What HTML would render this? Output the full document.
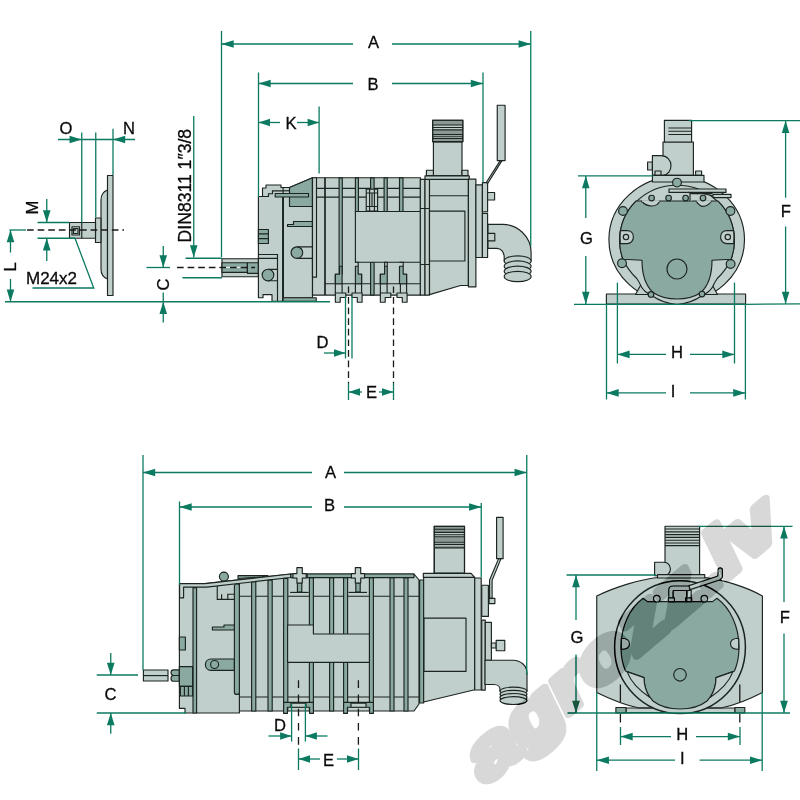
<!DOCTYPE html>
<html lang="en">
<head>
<meta charset="utf-8">
<title>Vacuum pump dimensions</title>
<style>
html,body{margin:0;padding:0;background:#fff;}
body{width:800px;height:800px;overflow:hidden;}
svg{display:block;}
.g{fill:none;stroke:#0b7a60;stroke-width:1.3;}
.a{fill:#0b7a60;stroke:none;}
.d{fill:none;stroke:#1a1a1a;stroke-width:1.3;stroke-dasharray:6.7 3.9;}
.d2{fill:none;stroke:#1a1a1a;stroke-width:1.3;stroke-dasharray:7.6 6.6;}
.dd{fill:none;stroke:#1a1a1a;stroke-width:1.3;}
.o{fill:none;stroke:#1c2421;stroke-width:1.15;}
.l{fill:#c0cfcb;stroke:#1c2421;stroke-width:1.15;stroke-linejoin:round;}
.k{fill:#89a9a1;stroke:#1c2421;stroke-width:1.15;stroke-linejoin:round;}
.m{fill:#a3bab2;stroke:#1c2421;stroke-width:1.15;stroke-linejoin:round;}
.w{fill:none;stroke:#e8efec;stroke-width:1.3;}
.th{fill:#8b9894;stroke:none;}
.wl{fill:none;stroke:#c0cfcb;stroke-width:1.15;}
.kf{fill:#89a9a1;stroke:none;}
.lf{fill:#c0cfcb;stroke:none;}
.t text{font-family:"Liberation Sans",sans-serif;font-size:17.3px;fill:#0a0a0a;stroke:#0a0a0a;stroke-width:0.3;}
.wmg{opacity:.15;}
.wm{font-family:"Liberation Sans",sans-serif;font-weight:bold;font-style:italic;font-size:68px;fill:#000;stroke:#000;stroke-width:8;stroke-linejoin:round;}
@supports (mix-blend-mode:difference){.wmg{opacity:1;mix-blend-mode:difference;}.wm{fill:#272727;stroke:#272727;}}
</style>
</head>
<body>
<svg width="800" height="800" viewBox="0 0 800 800">
<rect x="0" y="0" width="800" height="800" fill="#ffffff"/>
<g id="flange">
<path class="l" d="M107.5 190C103.5 191.5 101 195 101 200V269C101 274 103.5 277.5 107.5 279Z"/>
<rect class="l" x="107.5" y="175.5" width="5.5" height="120"/>
<rect class="l" x="95.5" y="218" width="5.4" height="24.5"/>
<rect class="l" x="69.5" y="222.5" width="26" height="15.75"/>
<path class="o" d="M81.75 222.5L81.75 238.25"/>
<rect class="l" x="72" y="226.75" width="7.5" height="8.25"/>
<rect class="l" x="73.5" y="228.5" width="4.5" height="5"/>
</g>
<g id="side1">
<rect class="l" x="222" y="258.7" width="36.4" height="18.05"/>
<rect class="k" x="222" y="262.75" width="25.4" height="9.65"/>
<rect class="k" x="247.4" y="262.75" width="11" height="10.55"/>
<path class="w" d="M226 267.3H233M236 267.3H245"/>
<path class="l" d="M258.4 196.5H262.5V188H266V185H281V187.5H289.5V196.5H283.1V301.25H272V294.6H263V297.75H258.4Z"/>
<path class="o" d="M258.4 196.5H268.5V193.7H272.5V190.8H289.5"/>
<rect class="k" x="258.4" y="229.5" width="10" height="14"/>
<path class="o" d="M258.4 233.9H268.4M258.4 238.6H268.4"/>
<path class="o" d="M258.4 254.5H277.5V301.25M258.4 258.4H277.5"/>
<path class="o" d="M268 269.3H277.5M268 280.7H277.5"/>
<circle class="k" cx="268" cy="275" r="5.8"/>
<path class="l" d="M283.1 196.5V187.5H289.5L312.5 177.7V297.75H283.1Z"/>
<path class="o" style="stroke-width:1.8" d="M283.1 196.5V301.25"/>
<path class="k" d="M289.5 187.5L312.5 177.7V206.5H289.5Z"/>
<path class="o" d="M283.1 190.8H289.5"/>
<rect class="k" x="283.1" y="297.75" width="33.1" height="3.5"/>
<rect class="k" x="275.2" y="193.5" width="33.3" height="3.5"/>
<path class="k" d="M287.5 226.5V224.5H293.5V221.5H312.5V226.5Z"/>
<path class="o" d="M296.9 246.8H312.5M296.9 258.4H312.5"/>
<circle class="k" cx="296.9" cy="252.6" r="5.8"/>
<rect class="l" x="312.5" y="177.7" width="108" height="117.4"/>
<rect class="l" x="312.5" y="177.7" width="4" height="99.4"/>
<path class="o" style="stroke-width:1.7" d="M325 177.7V295.1"/>
<path class="o" d="M316.5 188.4H420.5M316.5 197.1H420.5M325 283.75H420.5"/>
<rect class="k" x="339.1" y="177.9" width="3.2" height="96.1"/>
<rect class="k" x="355.4" y="177.9" width="3" height="33.6"/>
<rect class="k" x="384.1" y="177.9" width="3.15" height="33.6"/>
<rect class="k" x="399.5" y="177.9" width="3.5" height="33.6"/>
<rect class="k" x="370.6" y="177.9" width="3.5" height="11.35"/>
<rect class="k" x="370.6" y="262.2" width="3.5" height="32.9"/>
<rect class="l" x="366.25" y="189.25" width="11.35" height="21.85"/>
<path class="o" d="M369.6 189.25V211.1M374.4 189.25V211.1M372 193V206.5M366.25 193H377.6M366.25 206.5H377.6"/>
<rect class="l" x="355.4" y="211.5" width="65.1" height="50.7"/>
<path class="k" d="M339.6 266.25H342.1V283.75H335.35V274.1H339.6Z"/>
<path class="k" d="M355.4 266.25H358.2V274.1H361.6V283.75H355.4Z"/>
<path class="k" d="M384.6 266.25H387.25V283.75H380.35V274.1H384.6Z"/>
<path class="k" d="M399.5 266.25H403.2V274.1H406.6V283.75H399.5Z"/>
<path class="o" d="M355.4 262.2H358.2V266.25M384.6 266.25V262.2H387.25V266.25M399.5 262.2H403.2V266.25"/>
<path class="l" d="M335.35 293H345.8V297.5H340.2V302.25H335.35Z"/><path class="o" d="M335.35 274.1V293M342.1 283.75V293"/>
<path class="l" d="M362.1 293H352V297.5H357.3V302.25H362.1Z"/><path class="o" d="M361.6 274.1V293M355.4 283.75V293"/>
<path class="l" d="M380.35 293H390.8V297.5H385.2V302.25H380.35Z"/><path class="o" d="M380.35 274.1V293M387.1 283.75V293"/>
<path class="l" d="M407.1 293H397V297.5H402.3V302.25H407.1Z"/><path class="o" d="M406.6 274.1V293M400.4 283.75V293"/>
<rect class="l" x="420.3" y="179.4" width="4.7" height="115.7"/>
<rect class="l" x="425" y="179.4" width="4.5" height="115.7"/>
<path class="o" d="M420.3 208.5H429.5M420.3 264.5H429.5"/>
<rect class="l" x="433.4" y="141.6" width="28.6" height="34"/>
<rect class="l" x="432.7" y="120.3" width="30.1" height="21.3"/>
<rect class="th" x="432.7" y="120.3" width="30.1" height="4.7"/>
<rect class="th" x="432.7" y="130.2" width="30.1" height="4.2"/>
<rect class="th" x="432.7" y="138.6" width="30.1" height="2.8"/>
<path class="o" d="M432.7 125H462.8M432.7 127.5H462.8M432.7 129.9H462.8M432.7 134.6H462.8M432.7 136.7H462.8M432.7 138.5H462.8M432.7 141.6H462.8"/>
<rect class="o" x="432.7" y="120.3" width="30.1" height="21.3"/>
<rect class="l" x="426.4" y="170.25" width="7" height="5.35"/>
<rect class="l" x="462" y="170.25" width="6" height="5.35"/>
<path class="l" d="M429.5 179.4H468.4V285.5H460.5L429.5 294.6Z"/>
<rect class="l" x="425" y="175.9" width="44.25" height="3.5"/>
<path class="o" d="M429.5 195.7H468.4"/>
<rect class="l" x="429.5" y="211.1" width="35.4" height="49.9"/>
<rect class="l" x="468.4" y="179.1" width="7.5" height="107.8"/>
<rect class="l" x="475.9" y="184.9" width="6.5" height="72.6"/>
<rect class="l" x="482.4" y="182.6" width="5.2" height="29.1"/>
<rect class="l" x="482.4" y="213.4" width="5.2" height="44.1"/>
<rect class="l" x="487.6" y="192.5" width="7" height="7.5"/>
<path class="l" d="M500.2 160.6L486.4 182.3L487.8 183.2L502 160.6Z"/>
<rect class="l" x="497.25" y="105.2" width="7.85" height="55.4"/>
<path class="l" d="M488 224.4H503C517 224.4 531.1 236 531.1 252.5V261H504.2V257C504.2 252 501 248.3 496.9 248.3H488Z"/>
<rect class="l" x="487.8" y="233.4" width="7" height="7.5"/>
<ellipse class="l" cx="517.65" cy="261" rx="13.45" ry="5.2"/>
<ellipse class="l" cx="517.65" cy="266.15" rx="13.45" ry="5.2"/>
<ellipse class="l" cx="517.65" cy="271.3" rx="13.45" ry="5.2"/>
<ellipse class="l" cx="517.65" cy="276.5" rx="13.45" ry="5.2"/>
</g>
<g id="front1">
<rect class="l" x="663" y="142" width="30.4" height="33.4"/>
<rect class="l" x="664.4" y="120.4" width="27.2" height="21.6"/>
<path class="o" d="M668.4 128H691.6M668.4 131.2H691.6M668.4 134.5H691.6"/>
<rect class="l" x="647.6" y="162" width="4.8" height="8"/>
<path class="l" d="M652.4 155.6H661C667 155.6 671 160.5 671 165.5C671 170.5 668 175 663 175.4H652.4Z"/>
<rect class="l" x="655" y="171" width="6" height="4.4"/>
<rect class="l" x="695.6" y="171" width="6" height="4.4"/>
<ellipse class="l" cx="676.7" cy="239.6" rx="67.8" ry="63"/>
<rect class="l" x="606.4" y="294" width="139.2" height="10"/>
<path class="l" d="M635.5 294.5L640.5 285.5H648V294.5Z"/>
<path class="l" d="M717.5 294.5L712.5 285.5H705V294.5Z"/>
<path class="l" d="M619.6 241C619.6 210 645.3 185.2 677 185.2C708.7 185.2 734.4 210 734.4 241C734.4 248 733 254 731 259.5C727 268 722 274 717.25 278.5C715 281.5 714 284 712.5 287C710 291.5 707 293 703.25 295C698 298.5 688 304.2 677 304.2C666 304.2 656 298.5 650.75 295C647 293 644 291.5 641.5 287C640 284 639 281.5 636.75 278.5C632 274 627 268 623 259.5C621 254 619.6 248 619.6 241Z"/>
<rect class="l" x="652.4" y="175.4" width="51.6" height="6.6"/>
<path class="k" d="M636 201H718C728 211 734.4 225 734.4 241C734.4 248 733 254 731 259.3L712 260.3C712 275 708 286 701 292.4C694 297 685 299 677 299C669 299 660 297 653 292.4C646 286 642 275 642 260.3L623 259.3C621 254 619.6 248 619.6 241C619.6 225 626 211 636 201Z"/>
<path class="l" d="M641.25 201C644 204 646.5 206 651.6 206C656.5 206 658 204 660 201"/>
<path class="l" d="M696 201C698 204 699.5 206.3 703 206.3C707.5 206.3 709.5 204 711.75 201"/>
<path class="lc" style="stroke:#c0cfcb;stroke-width:1.6;fill:none" d="M641.9 201H659.4M696.6 201H711.1"/>
<path class="l" d="M690 201V193.6H712.5"/>
<rect class="l" x="669" y="189" width="57" height="3.4"/>
<rect class="l" x="713" y="194.4" width="18" height="3.2"/>
<path class="o" d="M688 192.4L698 193.8M704 193.8L713 196"/>
<circle class="k" cx="677" cy="182.6" r="4.4"/>
<circle class="k" cx="623" cy="211" r="4.4"/>
<circle class="k" cx="730.4" cy="211" r="4.4"/>
<circle class="k" cx="622" cy="263.2" r="4.4"/>
<circle class="k" cx="730.6" cy="264" r="4.4"/>
<circle class="k" cx="651.6" cy="198" r="2.8"/>
<circle class="k" cx="668.6" cy="198" r="2.8"/>
<circle class="k" cx="685.6" cy="198" r="2.8"/>
<circle class="k" cx="703" cy="198" r="2.8"/>
<circle class="k" cx="651" cy="294.4" r="2.8"/>
<circle class="k" cx="702" cy="294" r="2.8"/>
<path class="l" d="M620.3 230.6H627C631 230.6 633.4 233.5 633.4 237C633.4 240.5 631 243.6 627 243.6H620.3C619.9 239 619.9 235 620.3 230.6Z"/>
<path class="l" d="M733.7 230.6H727C723 230.6 720.6 233.5 720.6 237C720.6 240.5 723 243.6 727 243.6H733.7C734.1 239 734.1 235 733.7 230.6Z"/>
<circle class="l" cx="626" cy="237" r="2.7"/>
<circle class="l" cx="727.8" cy="237" r="2.7"/>
<circle class="k" cx="677" cy="269" r="10"/>
</g>
<g id="side2">
<rect class="l" x="143.4" y="670" width="24.6" height="11"/>
<path class="o" d="M143.4 675.6H168"/>
<path class="k" d="M179.4 669.8H173.6C171.8 669.8 171 671 171 672.6C171 674.3 171.8 675.5 173.6 675.5H179.4Z"/>
<path class="k" d="M179.4 675.5H173.6C171.8 675.5 171 676.7 171 678.4C171 680 171.8 681.2 173.6 681.2H179.4Z"/>
<path class="l" d="M239 579.8L290.75 574H414L419 580V704L414 711H239Z"/>
<path class="l" d="M179.4 583.6H205L239.4 579.8V713H185V708.4H179.4Z"/>
<circle class="k" cx="223.9" cy="576.6" r="4.5"/>
<path class="k" d="M238 578.5V575.6H268L262 577Z"/>
<path class="l" d="M179.6 583.6H205L290.75 574V577.5L206.75 587.1H183.6V597.8H179.6Z"/>
<rect class="k" x="193" y="587.6" width="3.6" height="125.4"/>
<rect class="k" x="179.4" y="637" width="6" height="13"/>
<rect class="k" x="179.4" y="666.6" width="13.2" height="19.8"/>
<rect class="k" x="180.4" y="686.4" width="12.2" height="9.6"/>
<path class="o" d="M184.4 686.4V696M188.4 686.4V696"/>
<path class="o" d="M217.25 586V599.4H234.4M221.6 599.4V594.2M227.8 599.4V594.2H234.4"/>
<path class="k" d="M212.4 630H234.4V625H224V627H212.4Z"/>
<path class="k" d="M234.4 659H211C207.6 659 205.4 661.6 205.4 664.7C205.4 667.8 207.6 670.4 211 670.4H234.4Z"/>
<circle class="k" cx="214.6" cy="664.5" r="4"/>
<path class="k" d="M234.4 586C234.4 584.8 235.4 584 236.9 584C238.4 584 239.4 584.8 239.4 586V692.4C239.4 693.6 238.4 694.4 236.9 694.4C235.4 694.4 234.4 693.6 234.4 692.4Z"/>
<path class="o" d="M239.4 596.2H419M239.4 697H419"/>
<rect class="k" x="251.6" y="582.03" width="4.2" height="128.97"/>
<rect class="k" x="268" y="580.16" width="4.2" height="130.84"/>
<rect class="k" x="283.6" y="578.38" width="4.2" height="132.62"/>
<rect class="k" x="309.4" y="577.6" width="4" height="133.4"/>
<rect class="k" x="329.6" y="577.6" width="4" height="133.4"/>
<rect class="k" x="343.6" y="577.6" width="4" height="133.4"/>
<rect class="k" x="369.4" y="577.6" width="4" height="133.4"/>
<rect class="k" x="390" y="577.6" width="4" height="133.4"/>
<rect class="k" x="404" y="577.6" width="4" height="133.4"/>
<rect class="k" x="307" y="574" width="107" height="3.6"/>
<path class="k" d="M290.75 574H307V577.6H290.75Z"/>
<path class="l" d="M287.6 625H313.4V634H369.4V662.4H287.6Z"/>
<rect class="k" x="297.4" y="583" width="4.4" height="9"/>
<path class="o" d="M290.1 592.4H308.6"/>
<path class="l" d="M296.9 567.6H302.3 V573.6H306.2 V578H302.3 V583H296.9 V578H293 V573.6H296.9Z"/>
<rect class="k" x="355.8" y="583" width="4.4" height="9"/>
<path class="o" d="M348.5 592.4H367"/>
<path class="l" d="M355.3 567.6H360.7 V573.6H364.6 V578H360.7 V583H355.3 V578H351.4 V573.6H355.3Z"/>
<path class="k" d="M283.6 702.4H313.4V713.4H309.6V707.2H287.4V713.4H283.6Z"/>
<rect class="l" x="291" y="703.2" width="15" height="4"/>
<path class="k" d="M343.6 702.4H373.4V713.4H369.6V707.2H347.4V713.4H343.6Z"/>
<rect class="l" x="351" y="703.2" width="15" height="4"/>
<rect class="k" x="419.6" y="580" width="4.05" height="123"/>
<rect class="l" x="434.25" y="526.4" width="30.25" height="46.9"/>
<rect class="th" x="434.25" y="526.4" width="30.25" height="5.6"/>
<rect class="th" x="434.25" y="537" width="30.25" height="4.8"/>
<rect class="th" x="434.25" y="545.6" width="30.25" height="2.2"/>
<path class="o" d="M434.25 529.2H464.5M434.25 532.3H464.5M434.25 534.7H464.5M434.25 536.75H464.5M434.25 542.2H464.5M434.25 544.3H464.5M434.25 547.8H464.5"/>
<rect class="o" x="434.25" y="526.4" width="30.25" height="46.9"/>
<path class="l" d="M423.65 577.4H474.75V689.75L423.65 702Z"/>
<path class="l" d="M423.3 573.3H471.1L474.6 577.3H423.3Z"/>
<rect class="l" x="424" y="618.15" width="42" height="53.25"/>
<rect class="l" x="474.75" y="578" width="6.45" height="112"/>
<rect class="l" x="481.75" y="585.25" width="6.65" height="31.15"/>
<rect class="l" x="481.75" y="620.1" width="3.5" height="70"/>
<rect class="l" x="485.25" y="622.4" width="6.15" height="38"/>
<rect class="l" x="491.4" y="643" width="4.8" height="5"/>
<rect class="l" x="496.2" y="640.3" width="8.6" height="10.4"/>
<path class="l" d="M498.6 558.65L489.6 580V598.4H492.1V580.4L501 558.65Z"/>
<rect class="l" x="496.6" y="517.35" width="6.5" height="41.3"/>
<rect class="l" x="489.1" y="598.4" width="5.8" height="5.2"/>
<path class="l" d="M485 660.2H513C521 660.2 527 666 527 673V691H500V689.5C500 686.5 497.5 684.5 494 684.5H485Z"/>
<ellipse class="l" cx="513.5" cy="691" rx="13.5" ry="3.9"/>
<ellipse class="l" cx="513.5" cy="694.2" rx="13.5" ry="3.9"/>
<ellipse class="l" cx="513.5" cy="697.4" rx="13.5" ry="3.9"/>
<ellipse class="l" cx="513.5" cy="700.6" rx="13.5" ry="3.9"/>
</g>
<g id="front2">
<rect class="l" x="626" y="708" width="109" height="4.6"/>
<rect class="k" x="615.9" y="707.5" width="10.1" height="5.3"/>
<rect class="k" x="735" y="707.5" width="9.8" height="5.3"/>
<rect class="l" x="665" y="526.25" width="34.6" height="48.35"/>
<path class="o" d="M665 529H699.6M665 531.8H699.6M665 534.6H699.6M665 537.4H699.6M665 540.2H699.6M665 543H699.6M665 545.6H699.6"/>
<path class="l" d="M596.75 596 C615 587 640 579.5 657.5 577.5 H704.75 C722 579.5 747 587 762.4 596 V692.5 C748 700 735 705 722 707.8 H638 C625 705 612 700 596.75 692.5Z"/>
<path class="l" d="M654.6 562.25H664C668 562.25 670.4 565.5 670.4 569C670.4 572.5 668 575.75 664 575.75H654.6Z"/>
<rect class="l" x="657.5" y="574.6" width="47.25" height="3.4"/>
<ellipse cx="680" cy="647.2" rx="65.4" ry="66.4" style="fill:#c0cfcb;stroke:#1c2421;stroke-width:1.5"/>
<path class="k" d="M643 598.3 L647.4 601.6 H712.6 L717 598.3 C730 608 739 626 739 647 C739 656 737.5 664 734.5 671 L716 677.6 C716 686 713 695 707 701 C700 706.5 690 709 680 709 C670 709 660 706.5 653 701 C647 695 644 686 644 677.6 L625.5 671 C622.5 664 621 656 621 647 C621 626 630 608 643 598.3Z"/>
<path class="l" d="M627 671.6L644 677.6C644 685 646 692 650 697.5C640 691 631 682 627 671.6Z"/>
<path class="l" d="M733 671.6L716 677.6C716 685 714 692 710 697.5C720 691 729 682 733 671.6Z"/>
<path class="l" d="M621.3 638.2C626.5 638.2 629.5 640.5 629.5 643.8C629.5 647 626.5 649.4 621.3 649.4Z"/>
<path class="l" d="M738.7 638.2C733.5 638.2 730.5 640.5 730.5 643.8C730.5 647 733.5 649.4 738.7 649.4Z"/>
<circle class="l" cx="656.8" cy="598.7" r="3.3"/>
<circle class="l" cx="704.3" cy="598.7" r="3.3"/>
<path class="l" d="M668.75 601.6V590C668.75 587.5 670.5 586 673 586H689.5V590.5H674.6C673.6 590.5 673.2 591 673.2 592V601.6Z"/>
<rect class="l" x="673.2" y="590.5" width="13.6" height="11.1"/>
<rect class="l" x="668.3" y="597.8" width="6.1" height="3.8"/>
<rect class="l" x="685.6" y="597.8" width="6.1" height="3.8"/>
<path class="o" d="M686.8 601.6V590.5H691.2V601.6"/>
<path class="l" d="M689 585.6L716.5 576.5C717.5 576.2 718 575.5 718 574.5V570C718 568.5 719 567.8 720.2 567.8C721.4 567.8 722.4 568.5 722.4 570V576C722.4 578 721.4 579.3 719.5 580L690.2 589.6Z"/>
<circle class="k" cx="680" cy="674.75" r="6.3"/>
</g>
<g id="dims">
<path class="g" d="M221.5 31L221.5 257"/>
<path class="g" d="M530.75 31L530.75 246"/>
<path class="g" d="M221.5 44L353 44"/>
<path class="g" d="M392 44L530.75 44"/>
<path class="a" d="M221.5 44L233.7 40.2L233.7 47.8Z"/>
<path class="a" d="M530.75 44L518.55 40.2L518.55 47.8Z"/>
<path class="g" d="M258.5 72.5L258.5 197"/>
<path class="g" d="M483 72.5L483 182.5"/>
<path class="g" d="M258.5 83.5L353 83.5"/>
<path class="g" d="M392 83.5L483 83.5"/>
<path class="a" d="M258.5 83.5L270.7 79.7L270.7 87.3Z"/>
<path class="a" d="M483 83.5L470.8 79.7L470.8 87.3Z"/>
<path class="g" d="M319.1 106.5L319.1 173.5"/>
<path class="g" d="M258.5 122.5L280 122.5"/>
<path class="g" d="M297 122.5L319.1 122.5"/>
<path class="a" d="M258.5 122.5L270 118.7L270 126.3Z"/>
<path class="a" d="M319.1 122.5L307.6 118.7L307.6 126.3Z"/>
<path class="g" d="M193.75 116L193.75 257.5"/>
<path class="a" d="M193.75 257.5L189.95 245.3L197.55 245.3Z"/>
<path class="g" d="M185.5 258.25L222 258.25"/>
<path class="g" d="M182.5 277.75L222 277.75"/>
<path class="g" d="M146.5 267.5L170 267.5"/>
<path class="g" d="M163.25 246L163.25 267.5"/>
<path class="a" d="M163.25 267.5L159.45 255.3L167.05 255.3Z"/>
<path class="g" d="M163.25 292.5L163.25 322.5"/>
<path class="a" d="M163.25 301.75L159.45 313.95L167.05 313.95Z"/>
<path class="g" d="M5 301.75L330 301.75"/>
<path class="g" d="M9.5 230L26 230"/>
<path class="g" d="M10.5 230L10.5 252.5"/>
<path class="a" d="M10.5 230L6.7 242.2L14.3 242.2Z"/>
<path class="g" d="M10.5 279L10.5 301.75"/>
<path class="a" d="M10.5 301.75L6.7 289.55L14.3 289.55Z"/>
<path class="g" d="M37.5 222.5L69.5 222.5"/>
<path class="g" d="M37.5 238.25L75 238.25"/>
<path class="g" d="M46.75 199L46.75 222.5"/>
<path class="a" d="M46.75 222.5L42.95 210.3L50.55 210.3Z"/>
<path class="g" d="M46.75 238.25L46.75 261"/>
<path class="a" d="M46.75 238.25L42.95 250.45L50.55 250.45Z"/>
<path class="g" d="M32.5 288H93.75L75 238.25"/>
<path class="g" d="M58 139.5L135 139.5"/>
<path class="a" d="M81.75 139.5L69.55 135.7L69.55 143.3Z"/>
<path class="a" d="M113 139.5L125.2 135.7L125.2 143.3Z"/>
<path class="g" d="M81.75 132.5L81.75 222.5"/>
<path class="g" d="M95.75 132.5L95.75 217.5"/>
<path class="g" d="M113 128.75L113 175"/>
<path class="g" d="M345.5 296.5L345.5 358.4"/>
<path class="g" d="M352 296.5L352 358.4"/>
<path class="g" d="M324 353L345.5 353"/>
<path class="a" d="M345.5 353L334 349.2L334 356.8Z"/>
<path class="g" d="M348.5 383L348.5 400"/>
<path class="g" d="M393.5 383L393.5 400"/>
<path class="g" d="M348.5 392L362 392"/>
<path class="g" d="M379 392L393.5 392"/>
<path class="a" d="M348.5 392L360 388.2L360 395.8Z"/>
<path class="a" d="M393.5 392L382 388.2L382 395.8Z"/>
<path class="g" d="M688.75 120.7L800 120.7"/>
<path class="g" d="M785.6 120.7L785.6 197.75"/>
<path class="a" d="M785.6 120.7L781.8 132.9L789.4 132.9Z"/>
<path class="g" d="M785.6 226.5L785.6 304"/>
<path class="a" d="M785.6 304L781.8 291.8L789.4 291.8Z"/>
<path class="g" d="M578 175.9L653.4 175.9"/>
<path class="g" d="M585.8 176L585.8 218"/>
<path class="a" d="M585.8 176L582 188.2L589.6 188.2Z"/>
<path class="g" d="M585.8 256L585.8 304"/>
<path class="a" d="M585.8 304L582 291.8L589.6 291.8Z"/>
<path class="g" d="M574 304.3H745L800 303.9"/>
<path class="g" d="M617.4 282.6L617.4 363.5"/>
<path class="g" d="M734.5 282.6L734.5 363.5"/>
<path class="g" d="M617.4 354.4L666 354.4"/>
<path class="g" d="M690 354.4L734.5 354.4"/>
<path class="a" d="M617.4 354.4L629.6 350.6L629.6 358.2Z"/>
<path class="a" d="M734.5 354.4L722.3 350.6L722.3 358.2Z"/>
<path class="g" d="M606.5 304L606.5 399.5"/>
<path class="g" d="M745.4 304L745.4 399.5"/>
<path class="g" d="M606.5 392.9L666 392.9"/>
<path class="g" d="M690 392.9L745.4 392.9"/>
<path class="a" d="M606.5 392.9L618.7 389.1L618.7 396.7Z"/>
<path class="a" d="M745.4 392.9L733.2 389.1L733.2 396.7Z"/>
<path class="g" d="M143 455L143 670"/>
<path class="g" d="M526.75 455L526.75 675"/>
<path class="g" d="M143 472.5L312 472.5"/>
<path class="g" d="M344 472.5L526.75 472.5"/>
<path class="a" d="M143 472.5L155.2 468.7L155.2 476.3Z"/>
<path class="a" d="M526.75 472.5L514.55 468.7L514.55 476.3Z"/>
<path class="g" d="M179.5 501.5L179.5 585"/>
<path class="g" d="M481.25 503L481.25 577.5"/>
<path class="g" d="M179.5 507L312 507"/>
<path class="g" d="M344 507L481.25 507"/>
<path class="a" d="M179.5 507L191.7 503.2L191.7 510.8Z"/>
<path class="a" d="M481.25 507L469.05 503.2L469.05 510.8Z"/>
<path class="g" d="M96.75 675L138 675"/>
<path class="g" d="M96.75 713L186 713"/>
<path class="g" d="M110.75 653L110.75 675"/>
<path class="a" d="M110.75 675L106.95 662.8L114.55 662.8Z"/>
<path class="g" d="M110.75 713L110.75 733.75"/>
<path class="a" d="M110.75 713L106.95 725.2L114.55 725.2Z"/>
<path class="g" d="M291.6 703.7L291.6 741.5"/>
<path class="g" d="M305.4 703.7L305.4 741.5"/>
<path class="g" d="M268.5 736L291.6 736"/>
<path class="a" d="M291.6 736L280.1 732.2L280.1 739.8Z"/>
<path class="g" d="M305.4 736L327.5 736"/>
<path class="a" d="M305.4 736L316.9 732.2L316.9 739.8Z"/>
<path class="g" d="M298.5 748.5L298.5 770"/>
<path class="g" d="M358.5 748.5L358.5 770"/>
<path class="g" d="M298.5 759L320 759"/>
<path class="g" d="M337 759L358.5 759"/>
<path class="a" d="M298.5 759L310 755.2L310 762.8Z"/>
<path class="a" d="M358.5 759L347 755.2L347 762.8Z"/>
<path class="g" d="M698.6 526.4L792.5 526.4"/>
<path class="g" d="M784 526.4L784 602"/>
<path class="a" d="M784 526.4L780.2 538.6L787.8 538.6Z"/>
<path class="g" d="M784 633.5L784 713"/>
<path class="a" d="M784 713L780.2 700.8L787.8 700.8Z"/>
<path class="g" d="M566.6 575L656 575"/>
<path class="g" d="M576 575L576 620"/>
<path class="a" d="M576 575L572.2 587.2L579.8 587.2Z"/>
<path class="g" d="M576 654.5L576 713"/>
<path class="a" d="M576 713L572.2 700.8L579.8 700.8Z"/>
<path class="g" d="M567.5 713L790 713"/>
<path class="g" d="M620.5 727L620.5 745"/>
<path class="g" d="M740 727L740 745"/>
<path class="g" d="M620.5 736.6L671 736.6"/>
<path class="g" d="M696 736.6L740 736.6"/>
<path class="a" d="M620.5 736.6L632.7 732.8L632.7 740.4Z"/>
<path class="a" d="M740 736.6L727.8 732.8L727.8 740.4Z"/>
<path class="g" d="M596.75 692L596.75 771"/>
<path class="g" d="M762.2 692L762.2 771"/>
<path class="g" d="M596.75 760.2L675 760.2"/>
<path class="g" d="M699.6 760.2L762.2 760.2"/>
<path class="a" d="M596.75 760.2L608.95 756.4L608.95 764Z"/>
<path class="a" d="M762.2 760.2L750 756.4L750 764Z"/>
</g>
<g id="dashes">
<path class="d" d="M27 230L124 230"/>
<path class="d" d="M177 267.5L255 267.5"/>
<path class="d" d="M348.5 286.4L348.5 383"/>
<path class="d" d="M393.5 286.4L393.5 383"/>
<path class="d2" d="M298.5 680.3L298.5 748.5"/>
<path class="d2" d="M358.4 680.3L358.4 748.5"/>
<path class="dd" d="M620.4 684.5V702M620.4 714V722.5M739.8 684.5V702M739.8 714V722.5"/>
</g>
<g id="labels" class="t">
<text transform="translate(373.5 48) scale(.96 1)" text-anchor="middle">A</text>
<text transform="translate(373 89.5) scale(.96 1)" text-anchor="middle">B</text>
<text transform="translate(291 129.3) scale(.96 1)" text-anchor="middle">K</text>
<text transform="translate(66 134) scale(.96 1)" text-anchor="middle">O</text>
<text transform="translate(129 134) scale(.96 1)" text-anchor="middle">N</text>
<text transform="translate(37.5 207.5) rotate(-90) scale(.96 1)" text-anchor="middle">M</text>
<text transform="translate(15.5 267) rotate(-90) scale(.96 1)" text-anchor="middle">L</text>
<text transform="translate(26 284)" textLength="51" lengthAdjust="spacingAndGlyphs">M24x2</text>
<text transform="translate(191 242.4) rotate(-90)" style="font-size:18px" textLength="113.5" lengthAdjust="spacingAndGlyphs">DIN8311 1&#8243;3/8</text>
<text transform="translate(169.2 284.5) rotate(-90) scale(.96 1)" text-anchor="middle">C</text>
<text transform="translate(322.5 348) scale(.96 1)" text-anchor="middle">D</text>
<text transform="translate(371.5 398) scale(.96 1)" text-anchor="middle">E</text>
<text transform="translate(785.8 216.5) scale(.96 1)" text-anchor="middle">F</text>
<text transform="translate(586.5 243.5) scale(.96 1)" text-anchor="middle">G</text>
<text transform="translate(677 358) scale(.96 1)" text-anchor="middle">H</text>
<text transform="translate(673 396.8) scale(.96 1)" text-anchor="middle">I</text>
<text transform="translate(330.5 478.3) scale(.96 1)" text-anchor="middle">A</text>
<text transform="translate(329.5 510.8) scale(.96 1)" text-anchor="middle">B</text>
<text transform="translate(110.5 699.8) scale(.96 1)" text-anchor="middle">C</text>
<text transform="translate(280 731) scale(.96 1)" text-anchor="middle">D</text>
<text transform="translate(328.5 765.5) scale(.96 1)" text-anchor="middle">E</text>
<text transform="translate(784.8 623) scale(.96 1)" text-anchor="middle">F</text>
<text transform="translate(577 642.5) scale(.96 1)" text-anchor="middle">G</text>
<text transform="translate(682.3 740.2) scale(.96 1)" text-anchor="middle">H</text>
<text transform="translate(682.3 763.8) scale(.96 1)" text-anchor="middle">I</text>
</g>
<g class="wmg"><text class="wm" x="0" y="0" transform="translate(487 784) rotate(-40.5)" textLength="392" lengthAdjust="spacingAndGlyphs">agrozz.lv</text></g>
</svg>
</body>
</html>
